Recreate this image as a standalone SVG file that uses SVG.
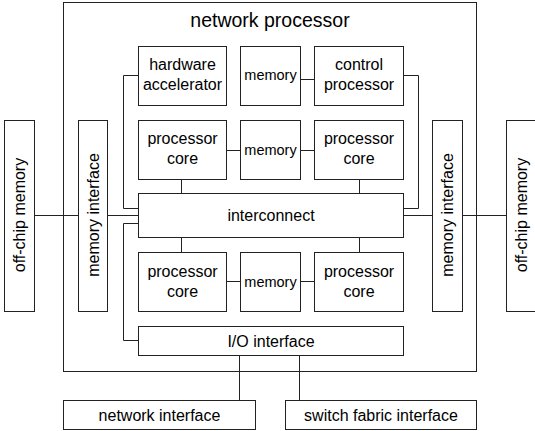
<svg xmlns="http://www.w3.org/2000/svg" width="535" height="431" viewBox="0 0 535 431">
<style>
rect{fill:#fff;stroke:#222;stroke-width:1}
.c{fill:none;stroke:#222;stroke-width:1}
text{font-family:"Liberation Sans",Arial,sans-serif;font-size:16px;fill:#000;text-anchor:middle}
.s{font-size:14.5px}
.t{font-size:19.5px}
</style>
<rect width="535" height="431" style="fill:#fff;stroke:none"/>
<g id="network-processor"><rect x="63.5" y="2.5" width="413" height="369"/><text class="t" x="270" y="26.5">network processor</text></g>
<g id="connectors">
<path class="c" d="M138.5,75.5H123.5V208.5H138.5"/>
<path class="c" d="M403.5,75.5H418.5V208.5H403.5"/>
<path class="c" d="M300.5,79.5H314.5"/>
<path class="c" d="M226.5,150.5H240.5M300.5,150.5H314.5"/>
<path class="c" d="M181.5,179.5V193.5M359.5,179.5V193.5"/>
<path class="c" d="M181.5,237.5V252.5M359.5,237.5V252.5"/>
<path class="c" d="M226.5,281.5H240.5M300.5,281.5H314.5"/>
<path class="c" d="M34.5,215.5H78.5M107.5,215.5H138.5"/>
<path class="c" d="M403.5,215.5H432.5M462.5,215.5H506.5"/>
<path class="c" d="M138.5,223.5H123.5V340.5H138.5"/>
<path class="c" d="M239.5,355.5V400.5M299.5,355.5V400.5"/>
</g>
<g id="hardware-accelerator"><rect x="138.5" y="46.5" width="88" height="59"/><text x="182.5" y="70">hardware</text><text x="182.5" y="90">accelerator</text></g>
<g id="memory-1"><rect x="240.5" y="46.5" width="60" height="59"/><text class="s" x="270.5" y="80">memory</text></g>
<g id="control-processor"><rect x="314.5" y="46.5" width="89" height="59"/><text x="359" y="70">control</text><text x="359" y="90">processor</text></g>
<g id="processor-core-1"><rect x="138.5" y="120.5" width="88" height="59"/><text x="182.5" y="144">processor</text><text x="182.5" y="164">core</text></g>
<g id="memory-2"><rect x="240.5" y="120.5" width="60" height="59"/><text class="s" x="270.5" y="155">memory</text></g>
<g id="processor-core-2"><rect x="314.5" y="120.5" width="89" height="59"/><text x="359" y="144">processor</text><text x="359" y="164">core</text></g>
<g id="interconnect"><rect x="138.5" y="193.5" width="265" height="44"/><text x="271" y="220.5">interconnect</text></g>
<g id="processor-core-3"><rect x="138.5" y="252.5" width="88" height="59"/><text x="182.5" y="276.5">processor</text><text x="182.5" y="296.5">core</text></g>
<g id="memory-3"><rect x="240.5" y="252.5" width="60" height="59"/><text class="s" x="270.5" y="287">memory</text></g>
<g id="processor-core-4"><rect x="314.5" y="252.5" width="89" height="59"/><text x="359" y="276.5">processor</text><text x="359" y="296.5">core</text></g>
<g id="io-interface"><rect x="138.5" y="326.5" width="265" height="29"/><text x="271" y="346.5">I/O interface</text></g>
<g id="memory-interface-left"><rect x="78.5" y="120.5" width="29" height="191"/><text transform="translate(98.5,215) rotate(-90)">memory interface</text></g>
<g id="memory-interface-right"><rect x="432.5" y="120.5" width="30" height="191"/><text transform="translate(453,215) rotate(-90)">memory interface</text></g>
<g id="off-chip-memory-left"><rect x="4.5" y="120.5" width="30" height="191"/><text transform="translate(25,215) rotate(-90)">off-chip memory</text></g>
<g id="off-chip-memory-right"><rect x="506.5" y="120.5" width="30" height="191"/><text transform="translate(527,215) rotate(-90)">off-chip memory</text></g>
<g id="network-interface"><rect x="63.5" y="400.5" width="192" height="29"/><text x="159.5" y="420.5">network interface</text></g>
<g id="switch-fabric-interface"><rect x="285.5" y="400.5" width="191" height="29"/><text x="381" y="420.5">switch fabric interface</text></g>
</svg>
